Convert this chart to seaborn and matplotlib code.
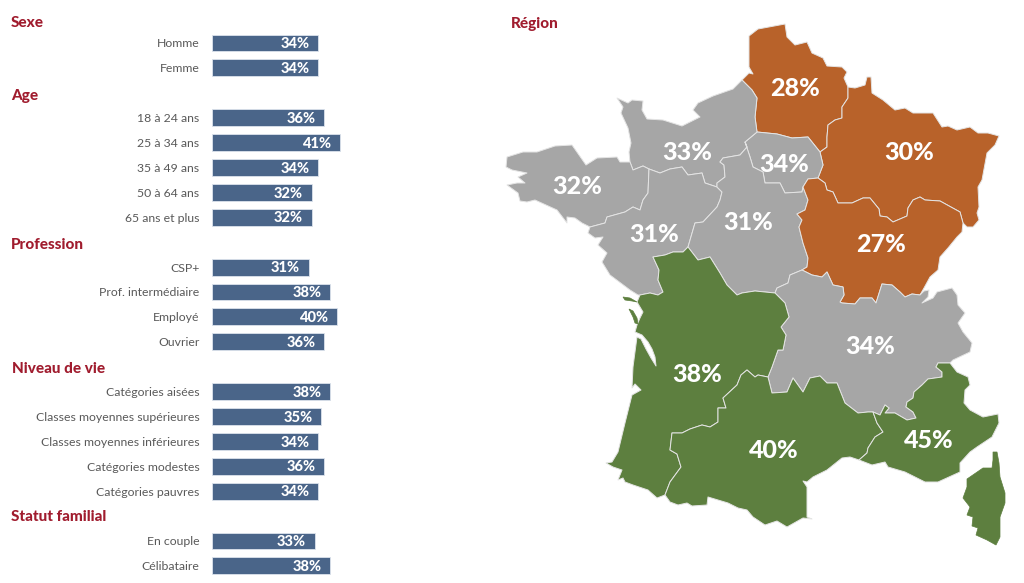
import matplotlib
matplotlib.use("Agg")
import matplotlib.pyplot as plt
from matplotlib.patches import Polygon
import pandas as pd
import seaborn as sns

# Survey results by population group
ROW_LABELS = ["Homme", "Femme",
              "Age", "18 à 24 ans", "25 à 34 ans", "35 à 49 ans", "50 à 64 ans", "65 ans et plus",
              "Profession", "CSP+", "Prof. intermédiaire", "Employé", "Ouvrier",
              "Niveau de vie", "Catégories aisées", "Classes moyennes supérieures",
              "Classes moyennes inférieures", "Catégories modestes", "Catégories pauvres",
              "Statut familial", "En couple", "Célibataire"]
HEADERS = ["Sexe", "Age", "Profession", "Niveau de vie", "Statut familial"]
ROW_VALUES = [34, 34,
              None, 36, 41, 34, 32, 32,
              None, 31, 38, 40, 36,
              None, 38, 35, 34, 36, 34,
              None, 33, 38]

# Regional results
REGION_NAMES = ["Hauts-de-France", "Grand Est", "Ile-de-France", "Normandie", "Bretagne",
                "Pays de la Loire", "Centre-Val de Loire", "Bourgogne-Franche-Comté",
                "Auvergne-Rhône-Alpes", "Nouvelle-Aquitaine", "Occitanie", "PACA"]
REGION_VALUES = [28, 30, 34, 33, 32, 31, 31, 27, 34, 38, 40, 45]
REGION_GROUPS = ["bas", "bas", "moyen", "moyen", "moyen", "moyen", "moyen", "bas",
                 "moyen", "haut", "haut", "haut"]
LABEL_X = [795, 909, 784, 687, 577, 654, 748, 881, 870, 697, 774, 929]
LABEL_Y = [89, 153, 164, 153, 187, 234, 223, 244, 347, 374, 451, 440]

GROUP_COLORS = {"bas": "#B8622A", "moyen": "#A6A6A6", "haut": "#5D7F3F"}
BAR_COLOR = "#4A6589"
HEADER_COLOR = "#A01C2E"
TEXT_COLOR = "#595959"
BORDER_COLOR = "#E4E4E4"

# Region outlines, in figure pixels; shared borders are reused between neighbours
NOR_HDF = [(742, 80), (752, 90), (757, 98), (755, 117), (757, 132)]
HDF_IDF = [(820, 152), (808, 137), (792, 138), (777, 134), (767, 133), (757, 132)]
HDF_GE = [(848, 87), (848, 98), (842, 107), (842, 118), (835, 120), (828, 125),
          (827, 137), (827, 147), (820, 152)]
HDF_COAST = [(749, 73), (753, 74), (749, 67), (749, 36), (758, 29), (785, 24), (787, 37),
             (795, 45), (807, 42), (812, 53), (823, 58), (827, 66), (842, 67), (847, 72),
             (844, 78)]
NOR_IDF = [(757, 132), (745, 142)]
IDF_CVL = [(745, 142), (750, 157), (753, 167), (763, 172), (765, 183), (780, 183),
           (785, 193), (802, 192), (803, 187)]
IDF_BFC = [(803, 187), (808, 179), (818, 178)]
IDF_GE = [(818, 178), (823, 165), (820, 152)]
GE_COAST = [(855, 88), (865, 85), (867, 77), (871, 77), (872, 93), (883, 100), (895, 110),
            (905, 108), (913, 113), (933, 113), (942, 127), (948, 126), (957, 130),
            (970, 127), (978, 133), (988, 133), (999, 136), (995, 145), (987, 153),
            (982, 180), (978, 187), (979, 207), (977, 213), (979, 220), (973, 227),
            (967, 227)]
GE_BFC = [(963, 223), (960, 212), (940, 201), (925, 200), (920, 197), (913, 200),
          (908, 208), (907, 216), (893, 222), (887, 217), (880, 216), (879, 209),
          (870, 198), (863, 198), (852, 203), (838, 203), (833, 192), (827, 190),
          (825, 183), (818, 178)]
BFC_EAST = [(962, 232), (957, 237), (948, 248), (940, 257), (938, 270), (930, 277),
            (924, 288)]
BFC_ARA = [(920, 295), (912, 294), (905, 297), (900, 292), (892, 285), (882, 284),
           (876, 303), (872, 298), (860, 298), (855, 304), (842, 303), (840, 302),
           (844, 295), (843, 287), (833, 285), (827, 272), (822, 277), (812, 275),
           (802, 270)]
BFC_CVL = [(802, 270), (807, 267), (808, 258), (803, 243), (799, 227), (802, 220),
           (797, 214), (805, 210), (808, 200), (803, 187)]
CVL_ARA = [(802, 270), (790, 275), (788, 283), (777, 288), (775, 293)]
CVL_NA = [(775, 293), (755, 291), (742, 293), (737, 295), (727, 285), (720, 273),
          (710, 257), (698, 260), (688, 247)]
CVL_PDL = [(688, 247), (695, 223), (703, 222), (717, 207), (720, 200), (722, 192),
           (717, 187)]
NOR_CVL = [(717, 187), (717, 183), (725, 177), (724, 165), (720, 162), (723, 158),
           (740, 155), (747, 147), (745, 142)]
NOR_PDL = [(717, 187), (705, 183), (702, 173), (688, 175), (682, 167), (670, 169),
           (660, 173), (649, 169)]
NOR_BRE = [(649, 169), (643, 166), (633, 170), (630, 162)]
NOR_COAST = [(629, 152), (631, 143), (628, 128), (621, 113), (623, 107), (617, 98),
             (628, 103), (632, 100), (643, 101), (642, 110), (647, 119), (663, 120),
             (682, 126), (700, 117), (693, 110), (698, 103), (713, 96), (733, 89)]
BRE_PDL = [(649, 169), (648, 193), (643, 200), (640, 210), (633, 207), (625, 212),
           (607, 217), (605, 223), (590, 227)]
BRE_COAST = [(582, 223), (575, 218), (567, 217), (567, 223), (557, 210), (535, 200),
             (527, 202), (520, 201), (518, 193), (507, 185), (517, 183), (525, 183),
             (518, 177), (527, 173), (512, 170), (506, 167), (507, 157), (523, 152),
             (537, 152), (555, 146), (572, 145), (586, 165), (597, 158), (617, 157),
             (620, 162)]
PDL_COAST = [(588, 233), (595, 238), (603, 237), (598, 245), (607, 253), (602, 262),
             (610, 275), (630, 290), (638, 295)]
PDL_NA = [(640, 295), (650, 293), (658, 295), (663, 292), (658, 280), (659, 270),
          (653, 257), (665, 255), (673, 252), (683, 252), (688, 247)]
NA_ARA = [(775, 293), (785, 303), (789, 317), (781, 327), (786, 335), (783, 350),
          (778, 350), (772, 367), (768, 377)]
NA_OCC = [(768, 377), (758, 375), (755, 377), (747, 370), (741, 375), (737, 385),
          (723, 398), (726, 408), (718, 408), (718, 422), (710, 427), (702, 425),
          (690, 429), (682, 433), (672, 433), (670, 450), (677, 454), (681, 467),
          (670, 482), (665, 495)]
NA_COAST = [(657, 498), (648, 490), (633, 485), (625, 482), (623, 478), (618, 480),
            (622, 470), (613, 467), (606, 463), (612, 462), (618, 452), (625, 423),
            (632, 395), (641, 390), (635, 384), (632, 388), (633, 367), (637, 337),
            (641, 339), (646, 349), (651, 358), (656, 366), (655, 357), (652, 349),
            (648, 342), (642, 335), (635, 332), (637, 325), (640, 318), (643, 312),
            (637, 302)]
RE_ISLAND = [(623, 297), (630, 298), (637, 302), (632, 301), (625, 300)]
OLERON_ISLAND = [(629, 309), (633, 311), (637, 318), (638, 324), (635, 323), (633, 317)]
OCC_ARA = [(768, 377), (772, 393), (787, 392), (793, 378), (803, 392), (810, 378),
           (820, 376), (827, 383), (837, 383), (845, 403), (858, 413), (868, 412),
           (873, 412)]
OCC_PACA = [(873, 412), (877, 423), (883, 432), (875, 437), (868, 448), (867, 453),
            (859, 460)]
OCC_COAST = [(850, 457), (842, 458), (827, 470), (813, 477), (807, 482), (803, 481),
             (807, 487), (807, 517), (812, 519), (803, 518), (787, 527), (777, 521),
             (765, 525), (753, 517), (747, 510), (738, 508), (728, 503), (708, 497),
             (707, 505), (692, 506), (687, 503), (678, 505), (670, 502)]
ARA_PACA = [(950, 363), (938, 363), (936, 367), (942, 372), (942, 377), (928, 379),
            (922, 385), (914, 392), (913, 398), (907, 402), (906, 407), (913, 412),
            (916, 418), (907, 420), (895, 413), (885, 413), (889, 408), (885, 405),
            (880, 415), (873, 412)]
ARA_EAST = [(924, 291), (929, 290), (928, 297), (922, 303), (933, 298), (937, 292),
            (952, 288), (957, 295), (958, 305), (965, 313), (958, 323), (963, 332),
            (972, 343), (970, 352), (953, 360)]
PACA_COAST = [(957, 372), (968, 377), (970, 385), (965, 390), (964, 403), (970, 410),
              (983, 417), (998, 414), (999, 423), (992, 437), (977, 447), (970, 452),
              (960, 463), (960, 472), (938, 482), (925, 482), (905, 472), (888, 467),
              (885, 462), (872, 465)]
CORSICA = [(993, 452), (997, 452), (999, 463), (1000, 477), (1005, 493), (1005, 503),
           (1000, 517), (1000, 537), (996, 545), (987, 540), (976, 535), (978, 528),
           (972, 526), (973, 517), (967, 515), (970, 507), (963, 498), (967, 487),
           (967, 479), (983, 468), (992, 468), (993, 460)]


def rev(seg):
    return seg[::-1]


REGION_SHAPES = [
    [NOR_HDF[0]] + HDF_COAST + HDF_GE + HDF_IDF + rev(NOR_HDF),
    HDF_GE + rev(IDF_GE) + rev(GE_BFC) + rev(GE_COAST),
    HDF_IDF + NOR_IDF + IDF_CVL + IDF_BFC + IDF_GE,
    NOR_HDF + NOR_IDF + rev(NOR_CVL) + NOR_PDL + NOR_BRE + NOR_COAST,
    NOR_BRE + rev(BRE_COAST) + rev(BRE_PDL),
    BRE_PDL + PDL_COAST + PDL_NA + CVL_PDL + NOR_PDL,
    NOR_CVL + IDF_CVL + rev(BFC_CVL) + CVL_ARA + CVL_NA + CVL_PDL,
    rev(GE_BFC) + BFC_EAST + BFC_ARA + BFC_CVL + IDF_BFC,
    rev(CVL_ARA) + rev(BFC_ARA) + ARA_EAST + ARA_PACA + rev(OCC_ARA) + rev(NA_ARA),
    rev(CVL_NA) + NA_ARA + NA_OCC + NA_COAST + PDL_NA,
    rev(NA_OCC) + OCC_ARA + OCC_PACA + OCC_COAST,
    rev(ARA_PACA) + PACA_COAST + rev(OCC_PACA),
]

sns.set_theme(style="white")
plt.rcParams["font.family"] = ["Lato", "DejaVu Sans"]

W, H = 1024, 583
fig = plt.figure(figsize=(W / 100, H / 100), dpi=100, facecolor="white")

# Map layer, with axes running in figure pixels
ax_map = fig.add_axes([0, 0, 1, 1])
ax_map.set_xlim(0, W)
ax_map.set_ylim(H, 0)
ax_map.axis("off")

for shape, group in zip(REGION_SHAPES, REGION_GROUPS):
    ax_map.add_patch(Polygon(shape, closed=True, facecolor=GROUP_COLORS[group],
                             edgecolor=BORDER_COLOR, linewidth=0.7, joinstyle="round"))
for islet in (CORSICA, RE_ISLAND, OLERON_ISLAND):
    ax_map.add_patch(Polygon(islet, closed=True, facecolor=GROUP_COLORS["haut"],
                             edgecolor=GROUP_COLORS["haut"], linewidth=0.5))

for value, x, y in zip(REGION_VALUES, LABEL_X, LABEL_Y):
    ax_map.text(x, y, f"{value}%", color="white", fontsize=18, fontweight=900,
                ha="center", va="center")

ax_map.text(511, 24, "Région", color=HEADER_COLOR, fontsize=11, fontweight=900,
            ha="left", va="center")

# Bars, with one blank row per section heading
rows = pd.DataFrame({"label": ROW_LABELS, "value": ROW_VALUES})
rows["value"] = rows["value"].astype(float)

PITCH = 24.9
top_px = 43 - PITCH / 2
bottom_px = top_px + PITCH * len(rows)
ax_bar = fig.add_axes([212 / W, 1 - bottom_px / H, 140 / W, (bottom_px - top_px) / H])
ax_bar.patch.set_alpha(0)

sns.barplot(data=rows, y="label", x="value", order=list(rows["label"]), orient="y",
            color=BAR_COLOR, saturation=1, width=0.68, edgecolor="#DCE3EC", linewidth=0.6,
            ax=ax_bar)
ax_bar.set_xlim(0, 140 / 3.115)
ax_bar.set_ylim(len(rows) - 0.5, -0.5)
ax_bar.set_xlabel("")
ax_bar.set_ylabel("")
ax_bar.set_xticks([])
ax_bar.tick_params(axis="y", length=0, pad=9)
ax_bar.set_yticks(range(len(rows)))
ax_bar.set_yticklabels(["" if lab in HEADERS else lab for lab in rows["label"]],
                       fontsize=8.8, color=TEXT_COLOR)
sns.despine(ax=ax_bar, left=True, bottom=True)

for i, value in enumerate(rows["value"]):
    if pd.notna(value):
        ax_bar.annotate(f"{value:.0f}%", xy=(value, i), xytext=(-6.3, -0.8),
                        textcoords="offset points", color="white", fontsize=10.5,
                        fontweight=900, ha="right", va="center")

# Section headings, left aligned against the figure margin
HEADER_X = [11, 11, 11, 12, 11]
HEADER_Y = [23, 96, 245, 369, 517]
for name, x, y in zip(HEADERS, HEADER_X, HEADER_Y):
    ax_map.text(x, y, name, color=HEADER_COLOR, fontsize=11, fontweight=900,
                ha="left", va="center")

fig.savefig("out.png", dpi=100)
